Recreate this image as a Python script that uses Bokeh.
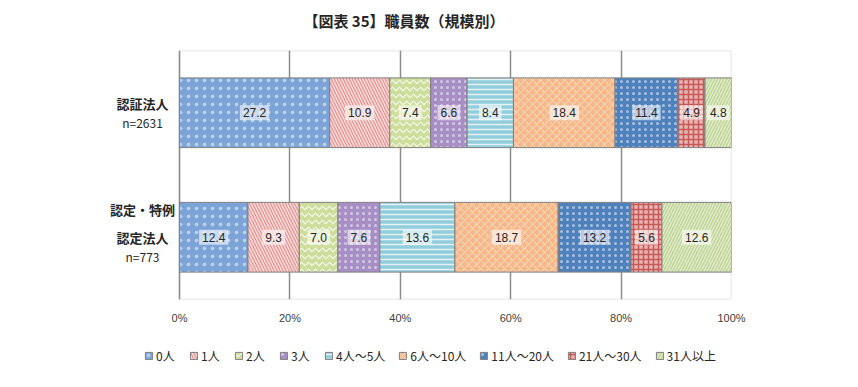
from bokeh.plotting import figure
from bokeh.layouts import column
from bokeh.models import (ColumnDataSource, Legend, LegendItem, BoxAnnotation,
                          FactorRange, FixedTicker)
from bokeh.core.properties import value
from bokeh.embed import file_html
from bokeh.resources import INLINE
import numpy as np

# ---- data ----
groups = ["認証法人", "認定・特例認定法人"]
group_name_lines = [["認証法人"], ["認定・特例", "認定法人"]]
group_n = ["n=2631", "n=773"]
series = ["0人", "1人", "2人", "3人", "4人～5人", "6人～10人", "11人～20人", "21人～30人", "31人以上"]
vals_nintei_hojin = [27.2, 10.9, 7.4, 6.6, 8.4, 18.4, 11.4, 4.9, 4.8]   # 認証法人 n=2631
vals_tokurei = [12.4, 9.3, 7.0, 7.6, 13.6, 18.7, 13.2, 5.6, 12.6]        # 認定・特例認定法人 n=773
x_ticks = [0, 20, 40, 60, 80, 100]
title_text = "【図表 35】職員数（規模別）"

# ---- styles ----
fills = ["#7BA3D6", "#E6908E", "#CDDE9C", "#A78FC6", "#92CDDC", "#F8B88A", "#4F81BD", "#EBB5B4", "#BFD595"]
hatches = ["dot", "left_diagonal_line", "horizontal_wave", "dot", "horizontal_line",
           "diagonal_cross", "dot", "cross", "right_diagonal_line"]
hatch_colors = ["white", "white", "white", "white", "white", "white", "white", "#C0504D", "white"]
hatch_scales = [8, 6, 7, 6, 5, 8, 6, 5, 6]
hatch_weights = [1.5, 1.5, 1.2, 1.5, 1.5, 1.0, 1.5, 1.5, 1.2]
hatch_alphas = [0.45, 0.7, 0.8, 0.5, 0.75, 0.55, 0.5, 0.9, 0.6]
styles = [dict(fill_color=fills[i], line_color="#7f7f7f", line_width=1,
               hatch_pattern=hatches[i], hatch_color=hatch_colors[i],
               hatch_scale=hatch_scales[i], hatch_weight=hatch_weights[i],
               hatch_alpha=hatch_alphas[i]) for i in range(len(series))]
FONT = "Noto Sans CJK JP"

# ---- title strip ----
tt = figure(width=858, height=36, x_range=(0, 1), y_range=(0, 1),
            output_backend="svg", toolbar_location=None, min_border=0)
tt.axis.visible = False
tt.grid.visible = False
tt.outline_line_color = None
tt.text(x=[0.485], y=[0.44], text=[title_text], text_align="center", text_baseline="middle",
        text_font=value(FONT), text_font_style="bold", text_font_size="15px",
        text_color="#262626")

# ---- main chart ----
PX_PER_UNIT = 5.52
FRAME_LEFT_PAD = 84  # px between frame left and the 0% line (room for category labels)
factors = [groups[1], groups[0]]  # bottom to top
p = figure(frame_width=636, frame_height=249,
           y_range=FactorRange(*factors),
           x_range=(-FRAME_LEFT_PAD / PX_PER_UNIT, 100),
           output_backend="svg", toolbar_location=None,
           min_border_left=95, min_border_right=127, min_border_top=14, min_border_bottom=32)

rows = [vals_tokurei, vals_nintei_hojin]
arr = np.array(rows)
cum = np.cumsum(arr, axis=1)
left = cum - arr

sources = []
lab_x, lab_y, lab_t = [], [], []
for i, s in enumerate(series):
    src = ColumnDataSource(dict(y=factors, left=left[:, i], right=cum[:, i]))
    sources.append(src)
    p.hbar(y="y", left="left", right="right", height=0.56, source=src, **styles[i])
    for j in range(2):
        lab_x.append((left[j, i] + cum[j, i]) / 2)
        lab_y.append(factors[j])
        lab_t.append(f"{arr[j, i]:.1f}")

lsrc = ColumnDataSource(dict(x=lab_x, y=lab_y, t=lab_t))
p.text(x="x", y="y", text="t", source=lsrc, text_align="center",
       text_baseline="middle", text_font=value("Liberation Sans"), text_font_size="12px",
       text_color="#262626", background_fill_color="white", background_fill_alpha=0.6,
       padding=3)

# category labels (left of the 0% line)
label_x = -37 / PX_PER_UNIT
name_src = ColumnDataSource(dict(
    x=[label_x, label_x, label_x],
    y=[(groups[0], 0.072), (groups[1], 0.225), (groups[1], 0.0)],
    t=[group_name_lines[0][0], group_name_lines[1][0], group_name_lines[1][1]]))
p.text(x="x", y="y", text="t", source=name_src, text_align="center", text_baseline="middle",
       text_font=value(FONT), text_font_style="bold", text_font_size="13px",
       text_color="#262626")
n_src = ColumnDataSource(dict(
    x=[label_x, label_x],
    y=[(groups[0], -0.08), (groups[1], -0.152)],
    t=group_n))
p.text(x="x", y="y", text="t", source=n_src, text_align="center", text_baseline="middle",
       text_font=value(FONT), text_font_size="12px", text_color="#262626")

# plot box from 0% to 100%
p.add_layout(BoxAnnotation(left=0, right=100, fill_alpha=0, line_color="#8c8c8c",
                           line_width=1.5, level="underlay"))
p.outline_line_color = None

# axes
p.yaxis.visible = False
p.xaxis.ticker = FixedTicker(ticks=x_ticks)
p.xaxis.major_label_overrides = {t: f"{t}%" for t in x_ticks}
p.xaxis.axis_line_color = None
p.xaxis.major_tick_line_color = None
p.xaxis.minor_tick_line_color = None
p.xaxis.major_tick_out = 0
p.xaxis.major_label_standoff = 12
p.xaxis.major_label_text_font = "Liberation Sans"
p.xaxis.major_label_text_font_size = "11px"
p.xaxis.major_label_text_color = "#404040"

p.xgrid.grid_line_color = "#8c8c8c"
p.xgrid.grid_line_width = 1.5
p.ygrid.grid_line_color = None

# ---- legend strip (same data; its bars are hidden, only the legend shows) ----
lg = figure(width=858, height=42, x_range=(0, 100), y_range=FactorRange(*factors),
            output_backend="svg", toolbar_location=None, min_border=0)
lg.axis.visible = False
lg.grid.visible = False
lg.outline_line_color = None
legend_items = []
for i, s in enumerate(series):
    r = lg.hbar(y="y", left="left", right="right", height=0.56, source=sources[i], **styles[i])
    r.visible = False
    legend_items.append(LegendItem(label=s, renderers=[r]))
legend = Legend(items=legend_items, orientation="horizontal", location=(49, 9),
                label_text_font=FONT, label_text_font_size="12px",
                label_text_color="#262626", glyph_width=9, glyph_height=9,
                label_standoff=3, spacing=13, padding=4, margin=0,
                border_line_color=None, background_fill_alpha=0,
                click_policy="none")
lg.add_layout(legend, "center")

layout = column(tt, p, lg, spacing=0)
open("out.html", "w").write(file_html(layout, INLINE))
